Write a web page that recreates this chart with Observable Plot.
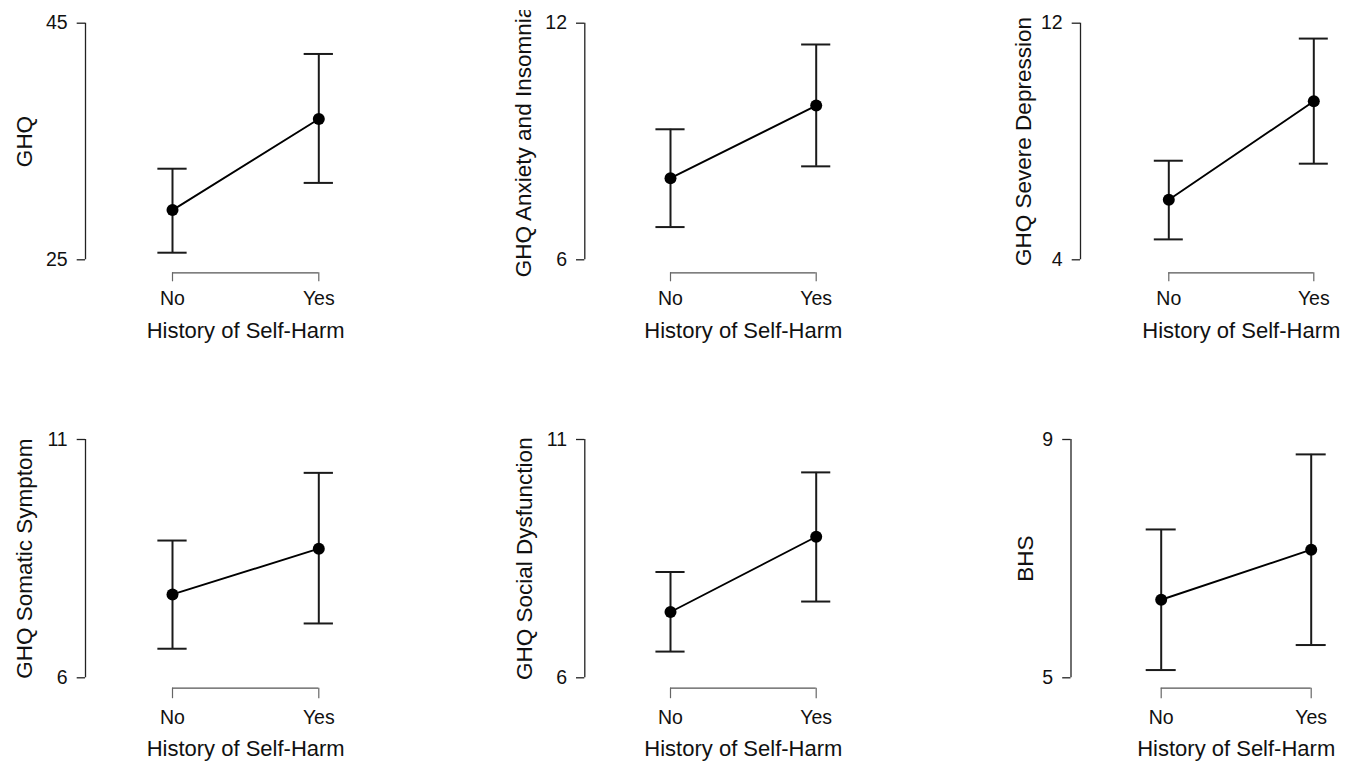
<!DOCTYPE html>
<html>
<head>
<meta charset="utf-8">
<script src="https://cdn.jsdelivr.net/npm/d3@7"></script>
<script src="https://cdn.jsdelivr.net/npm/@observablehq/plot@0.6"></script>
<style>
  html, body { margin: 0; padding: 0; background: #ffffff; }
  #chart { position: relative; width: 1359px; height: 761px; background: #ffffff; overflow: hidden; }
  #chart > svg { position: absolute; }
</style>
</head>
<body>
<div id="chart"></div>
<script>
// ---- Data ----
const groups = ["No", "Yes"];
const xTitle = "History of Self-Harm";
const measures = ["GHQ", "GHQ Anxiety and Insomnia", "GHQ Severe Depression",
                  "GHQ Somatic Symptom", "GHQ Social Dysfunction", "BHS"];
const meanNo   = [29.2, 8.07, 6.03, 7.75, 7.38, 6.31];
const meanYes  = [36.9, 9.91, 9.36, 8.71, 8.96, 7.15];
const lowerNo  = [25.6, 6.83, 4.69, 6.61, 6.55, 5.13];
const upperNo  = [32.7, 9.31, 7.35, 8.88, 8.22, 7.49];
const lowerYes = [31.5, 8.37, 7.25, 7.14, 7.60, 5.55];
const upperYes = [42.4, 11.46, 11.48, 10.30, 10.31, 8.75];
const yTicks   = [[25, 45], [6, 12], [4, 12], [6, 11], [6, 11], [5, 9]];

// ---- Layout (pixels) ----
const svgH = 344;
const rowLayout = [
  {top: 0,   frameTop: 22.7, frameBottom: 259.3, axisOffset: 13,   tickLen: 9,    tickPad: 9.5},
  {top: 417, frameTop: 22,   frameBottom: 260.3, axisOffset: 10.4, tickLen: 10.5, tickPad: 11}
];
const panelLayout = [
  {left: 0,   row: 0, axis: 85,     no: 172,    yes: 318.3,  labelDx: -60.5, clipTop: 0},
  {left: 453, row: 0, axis: 584.3,  no: 670,    yes: 815.7,  labelDx: -61,   clipTop: 10},
  {left: 906, row: 0, axis: 1080,   no: 1168.3, yes: 1313.3, labelDx: -57,   clipTop: 0},
  {left: 0,   row: 1, axis: 85,     no: 172,    yes: 318.3,  labelDx: -61,   clipTop: 0},
  {left: 453, row: 1, axis: 584.3,  no: 670,    yes: 815.7,  labelDx: -60,   clipTop: 0},
  {left: 906, row: 1, axis: 1070.5, no: 1160.7, yes: 1310.7, labelDx: -45.5, clipTop: 0}
];
const fontFamily = "'Liberation Sans', Arial, Helvetica, sans-serif";
const ink = "#111111";
const capHalf = 0.1;
const tickFont = 19.5;

const container = document.getElementById("chart");

measures.forEach((measure, k) => {
  const P = panelLayout[k];
  const R = rowLayout[P.row];
  const rows = groups.map((g, i) => ({
    g, x: i + 1,
    mean: [meanNo, meanYes][i][k],
    lo: [lowerNo, lowerYes][i][k],
    hi: [upperNo, upperYes][i][k]
  }));
  const W = 453;
  const H = svgH - P.clipTop;
  const marginTop = R.frameTop - P.clipTop;
  const marginBottom = H - (R.frameBottom - P.clipTop);
  const marginLeft = P.axis - P.left;
  const x0 = 1 - (P.no - P.axis) / (P.yes - P.no);
  const xMid = d3.mean(rows, d => d.x);

  const chart = Plot.plot({
    width: W,
    height: H,
    marginTop,
    marginBottom,
    marginLeft,
    marginRight: 0,
    style: {fontFamily, fontSize: tickFont + "px", background: "transparent", overflow: "hidden", color: ink},
    x: {domain: [1, 2], range: [P.no - P.left, P.yes - P.left]},
    y: {domain: yTicks[k]},
    marks: [
      // y axis line + ticks (R-style bracket)
      Plot.ruleX([x0], {y1: yTicks[k][0], y2: yTicks[k][1], stroke: "#222", strokeWidth: 1.3}),
      Plot.axisY({ticks: yTicks[k], tickFormat: d => String(d), tickSize: 8.3, tickPadding: 9.5,
                  fontSize: tickFont, label: null, stroke: "#222", strokeWidth: 1.3}),
      // x axis bracket, offset below the plot region
      Plot.ruleY([yTicks[k][0]], {x1: 1, x2: groups.length, dy: R.axisOffset, stroke: "#555", strokeWidth: 1.2}),
      Plot.axisX({ticks: rows.map(d => d.x), tickFormat: d => groups[d - 1], tickSize: R.tickLen,
                  tickPadding: R.tickPad, dy: R.axisOffset, fontSize: tickFont, label: null,
                  stroke: "#666", strokeWidth: 1.2}),
      // error bars
      Plot.ruleX(rows, {x: "x", y1: "lo", y2: "hi", stroke: "#1a1a1a", strokeWidth: 2}),
      Plot.ruleY(rows, {y: "lo", x1: d => d.x - capHalf, x2: d => d.x + capHalf, stroke: "#1a1a1a", strokeWidth: 2}),
      Plot.ruleY(rows, {y: "hi", x1: d => d.x - capHalf, x2: d => d.x + capHalf, stroke: "#1a1a1a", strokeWidth: 2}),
      // connecting line and points
      Plot.line(rows, {x: "x", y: "mean", stroke: "#000", strokeWidth: 1.9}),
      Plot.dot(rows, {x: "x", y: "mean", r: 6, fill: "#000", stroke: "none"}),
      // axis titles
      Plot.text([xTitle], {x: () => xMid, frameAnchor: "bottom", lineAnchor: "middle", textAnchor: "middle",
                           dy: 71, fontSize: 22, fill: ink}),
      Plot.text([measure], {frameAnchor: "left", rotate: -90, textAnchor: "middle", lineAnchor: "middle",
                            dx: P.labelDx, fontSize: 22.5, fill: ink})
    ]
  });
  chart.style.left = P.left + "px";
  chart.style.top = (R.top + P.clipTop) + "px";
  container.appendChild(chart);
});
</script>
</body>
</html>
